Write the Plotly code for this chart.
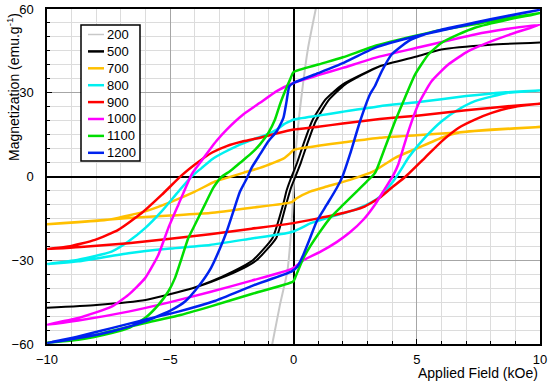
import plotly.graph_objects as go

# ---- data (Applied Field in kOe, Magnetization in emu/g) ----
series_names = ["200", "500", "700", "800", "900", "1000", "1100", "1200"]
series_colors = ["#C8C8C8", "#000000", "#FFC000", "#00F0F0", "#FF0000", "#FF00FF", "#00DD00", "#0022EE"]

# 200: nearly paramagnetic, single curve
H_200 = [-0.95, -0.55, -0.25, -0.1, 0.1, 0.37, 0.59, 0.95]
M_200 = [-64, -46, -34, -20, 10, 32, 46, 62]

# 500
H_500_down = [10, 8, 6, 5, 3.5, 2.0, 1.3, 0.75, 0.4, 0.12, -0.12, -0.28, -0.42, -0.85, -1.65, -2.45, -3.35, -4.1, -6, -8, -10]
M_500_down = [48, 47.2, 45.5, 43, 39.5, 33, 27.6, 19.8, 11.5, 4.3, -1, -5, -10, -22, -30, -34, -37.6, -40, -44.2, -46, -47]
H_500_up = [-10, -8, -6, -4.1, -3.3, -2.3, -1.5, -0.7, -0.3, -0.1, 0.08, 0.3, 0.55, 0.9, 1.45, 2.1, 3.5, 5, 6, 8, 10]
M_500_up = [-47, -46, -44.2, -40, -37.6, -34, -30, -22, -10, -4, 0, 5, 11.5, 19.8, 27.6, 33, 39.5, 43, 45.5, 47.2, 48]

# 700
H_700_down = [10, 8, 6.7, 5, 3.5, 2, 1, 0.3, 0, -0.14, -0.41, -0.82, -1.36, -2.04, -2.71, -3.18, -4.0, -4.94, -6.02, -7.38, -8.73, -10]
M_700_down = [17.7, 16.7, 15.8, 14.8, 13.9, 12.2, 11.0, 10.1, 9.5, 8.3, 6.4, 4.9, 3.1, 1.3, -0.5, -1.8, -5.4, -9.0, -12.5, -15.3, -16.4, -17.1]
H_700_up = [-10, -8.73, -6.7, -5, -3.39, -1.7, -0.07, 0.13, 0.67, 1.35, 2.29, 3.24, 4.12, 5.06, 6.01, 6.69, 8.04, 10]
M_700_up = [-17.1, -16.3, -14.9, -14.0, -13.1, -11.2, -9.2, -7.8, -5.4, -3.6, -1.2, 1.8, 6.7, 10.3, 13.9, 15.7, 16.8, 17.7]

# 800
H_800_down = [10, 8.5, 7, 5, 3.5, 2, 1, 0, -0.14, -0.41, -0.68, -1.09, -1.63, -2.3, -2.85, -3.3, -3.72, -4.1, -4.67, -5.35, -6.02, -6.7, -7.38, -8.73, -10]
M_800_down = [30.8, 30.1, 28.8, 26.6, 25.2, 23.2, 21.8, 20.4, 19.8, 18.6, 16.8, 15.0, 13.3, 10.9, 8.5, 6.2, 3.1, 0.3, -5.4, -12.5, -18.5, -23.3, -26.9, -29.8, -31.4]
H_800_up = [-10, -8.73, -6.7, -5, -3.39, -1.7, -0.3, 0, 0.3, 0.68, 1.35, 2.29, 3.1, 3.51, 3.91, 4.12, 4.4, 4.66, 5.33, 6.01, 6.69, 7.36, 8.71, 10]
M_800_up = [-31.4, -30.4, -27.5, -25.8, -24.5, -22.2, -20.3, -19.7, -18.5, -16.8, -14.9, -12.5, -9.5, -7.2, -3.2, -0.8, 3.0, 6.7, 13.9, 19.8, 24.0, 27.0, 30.0, 30.8]

# 900
H_900_down = [10, 8.5, 7, 5, 3.5, 2, 1, 0, -0.7, -1.36, -2.04, -2.71, -3.3, -4.0, -4.55, -5.35, -6.16, -7.11, -8.05, -9.14, -10]
M_900_down = [26.1, 25.0, 23.7, 21.8, 20.6, 19.0, 17.8, 16.8, 15.4, 13.9, 12.6, 10.9, 8.6, 4.3, 0.3, -6.6, -13.1, -19.1, -22.7, -25.1, -26.0]
H_900_up = [-10, -8.5, -6.7, -5, -3.39, -1.7, 0, 1, 2.02, 2.83, 3.51, 3.98, 4.55, 5.33, 6.01, 6.69, 7.36, 8.04, 9, 10]
M_900_up = [-26.0, -25.2, -23.9, -22.3, -20.7, -18.7, -16.7, -15.0, -13.1, -11.0, -7.5, -4.0, 0.0, 6.7, 12.6, 17.4, 20.4, 22.8, 25.0, 26.1]

# 1000
H_1000_down = [10, 8.7, 7.36, 5, 3.3, 2, 1, 0, -0.68, -1.36, -2.04, -2.71, -3.12, -3.4, -3.7, -4.13, -4.67, -5.08, -5.48, -6.02, -6.7, -7.38, -8.73, -10]
M_1000_down = [54.4, 52.9, 50.9, 46.1, 42.5, 38.9, 36.3, 33.5, 30.6, 26.4, 22.2, 16.8, 12.8, 9.6, 6.0, 0.8, -10.1, -18.5, -28.0, -36.4, -42.4, -46.6, -50.7, -53.1]
H_1000_up = [-10, -8.73, -6.7, -5, -3.39, -1.7, -0.07, 0.4, 1.08, 1.75, 2.29, 2.83, 3.31, 3.7, 4.05, 4.25, 4.66, 5.06, 5.6, 6.28, 7.09, 8.04, 8.99, 10]
M_1000_up = [-53.1, -51.6, -48.4, -45.0, -41.4, -37.3, -33.1, -30.0, -27.0, -23.5, -20.0, -15.5, -10.0, -4.5, 0.5, 4.3, 16.2, 25.8, 34.1, 40.1, 44.9, 48.5, 51.5, 54.4]

# 1100
H_1100_down = [10, 8.71, 7.36, 6, 5, 3.4, 2, 1, 0, -0.14, -0.34, -0.55, -0.75, -1.02, -1.36, -1.76, -2.17, -2.58, -2.9, -3.25, -3.59, -4.0, -4.27, -4.54, -4.81, -5.08, -5.48, -6.02, -6.7, -7.38, -8.73, -10]
M_1100_down = [58.5, 56.8, 54.5, 52.5, 50.5, 47.0, 42.7, 40.1, 37.4, 34.7, 30.6, 25.8, 20.4, 15.6, 11.5, 7.9, 4.9, 1.9, 0.0, -4.0, -10.0, -17.3, -22.1, -29.3, -36.4, -41.2, -46.0, -50.7, -54.3, -56.1, -58.5, -59.5]
H_1100_up = [-10, -8.73, -7.38, -6.02, -4.67, -3.39, -1.7, -0.01, 0.06, 0.2, 0.4, 0.67, 1.08, 1.48, 2.02, 2.56, 2.97, 3.31, 3.71, 4.12, 4.52, 4.93, 5.47, 6.01, 6.69, 7.36, 8.71, 10]
M_1100_up = [-59.5, -58.3, -55.3, -52.5, -49.8, -46.6, -42.1, -37.6, -36.4, -33.4, -29.3, -25.1, -19.7, -14.9, -10.1, -5.4, -1.8, 1.3, 10.3, 19.8, 28.2, 36.5, 43.7, 47.9, 50.9, 53.3, 56.2, 58.5]

# 1200
H_1200_down = [10, 8.71, 7.36, 6, 5, 3.3, 2, 1, 0, -0.17, -0.28, -0.41, -0.68, -1.02, -1.36, -1.7, -1.9, -2.17, -2.44, -2.71, -2.98, -3.35, -3.86, -4.4, -4.94, -6.02, -7.38, -8.73, -10]
M_1200_down = [59.7, 57.5, 55.0, 52.3, 50.3, 46.1, 40.6, 37.0, 33.5, 32.3, 27.0, 21.0, 16.2, 12.6, 7.9, 3.1, -0.8, -5.4, -12.5, -19.7, -25.7, -32.8, -39.4, -44.8, -47.8, -51.9, -55.5, -57.9, -59.7]
H_1200_up = [-10, -8.73, -7.38, -6.02, -4.67, -3.2, -1.6, -0.07, 0.16, 0.4, 0.67, 0.94, 1.35, 1.75, 2.0, 2.29, 2.7, 3.1, 3.31, 3.58, 3.98, 4.66, 5.33, 6.0, 7.36, 8.71, 10]
M_1200_up = [-59.7, -57.3, -54.3, -51.3, -48.4, -44.6, -38.9, -34.0, -32.2, -28.0, -22.1, -16.1, -10.1, -4.2, 0.3, 7.9, 19.8, 29.4, 32.5, 37.7, 43.7, 48.5, 50.9, 52.6, 55.2, 57.6, 59.7]

x_ticks = [-10, -5, 0, 5, 10]
y_ticks = [-60, -30, 0, 30, 60]

loops = {
    "500": (H_500_down, M_500_down, H_500_up, M_500_up),
    "700": (H_700_down, M_700_down, H_700_up, M_700_up),
    "800": (H_800_down, M_800_down, H_800_up, M_800_up),
    "900": (H_900_down, M_900_down, H_900_up, M_900_up),
    "1000": (H_1000_down, M_1000_down, H_1000_up, M_1000_up),
    "1100": (H_1100_down, M_1100_down, H_1100_up, M_1100_up),
    "1200": (H_1200_down, M_1200_down, H_1200_up, M_1200_up),
}

# ---- layout geometry (pixels) ----
W, H = 550, 384
ML, MR, MT, MB = 47, 10, 9, 40
PW, PH = W - ML - MR, H - MT - MB


def px(x):
    return (x - ML) / PW


def py(y):
    return (H - MB - y) / PH


fig = go.Figure()
for name, color in zip(series_names, series_colors):
    if name == "200":
        xs, ys, w = H_200, M_200, 2
    else:
        hd, md, hu, mu = loops[name]
        xs = hd + hu[1:]
        ys = md + mu[1:]
        w = 2 if name == "500" else 2.5
    fig.add_trace(go.Scatter(
        x=xs, y=ys, mode="lines", name=name, showlegend=False,
        line=dict(color=color, width=w, shape="spline", smoothing=0.5),
    ))

font_family = "Liberation Sans, Arial, sans-serif"
axis_common = dict(
    showline=True, linecolor="black", linewidth=1.5, mirror=True,
    ticks="inside", ticklen=5, tickcolor="black", tickwidth=1,
    showgrid=True, gridcolor="#A6A6A6", gridwidth=1,
    zeroline=True, zerolinecolor="black", zerolinewidth=1.5,
    tickfont=dict(family=font_family, size=13, color="black"),
    automargin=False,
)
fig.update_xaxes(
    range=[-10, 10], tickmode="array", tickvals=x_ticks,
    minor=dict(dtick=1, showgrid=True, gridcolor="#DCDCDC", gridwidth=1,
               ticks="inside", ticklen=3, tickcolor="black"),
    ticklabelstandoff=3,
    **axis_common,
)
fig.update_yaxes(
    range=[-60, 60], tickmode="array", tickvals=y_ticks,
    minor=dict(dtick=5, showgrid=True, gridcolor="#DCDCDC", gridwidth=1,
               ticks="inside", ticklen=3, tickcolor="black"),
    ticklabelstandoff=9,
    **axis_common,
)

# ---- manual legend (box, line samples, labels) ----
shapes = []
annotations = []
box_l, box_r, box_t, box_b = 81, 140, 25, 161
shapes.append(dict(type="rect", xref="paper", yref="paper",
                   x0=px(box_l), x1=px(box_r), y0=py(box_b), y1=py(box_t),
                   line=dict(color="black", width=1.5), fillcolor="white", layer="above"))
row0, row_h = 34.5, 16.9
for i, (name, color) in enumerate(zip(series_names, series_colors)):
    yy = row0 + i * row_h
    lw = 1.5 if name == "200" else 2.5
    shapes.append(dict(type="line", xref="paper", yref="paper",
                       x0=px(88), x1=px(104), y0=py(yy), y1=py(yy),
                       line=dict(color=color, width=lw), layer="above"))
    annotations.append(dict(text=name, xref="paper", yref="paper",
                            x=px(105), y=py(yy), xanchor="left", yanchor="middle",
                            showarrow=False,
                            font=dict(family=font_family, size=13, color="black")))

annotations += [
    dict(text="Applied Field (kOe)", xref="paper", yref="paper",
         x=1.0, y=0, xanchor="right", yanchor="middle", yshift=-29,
         showarrow=False, font=dict(family=font_family, size=14, color="black")),
    dict(text="Magnetization (emu.g<sup>-1</sup>)", xref="paper", yref="paper",
         x=px(13), y=py(87), xanchor="center", yanchor="middle", textangle=-90,
         showarrow=False, font=dict(family=font_family, size=14, color="black")),
]

fig.update_layout(
    width=W, height=H,
    margin=dict(l=ML, r=MR, t=MT, b=MB),
    paper_bgcolor="white", plot_bgcolor="white",
    font=dict(family=font_family, color="black"),
    showlegend=False,
    shapes=shapes,
    annotations=annotations,
)

fig.write_html(
    "out.html",
    config={"displayModeBar": False},
    post_script="document.body.style.margin='0px'; document.body.style.padding='0px';",
)
